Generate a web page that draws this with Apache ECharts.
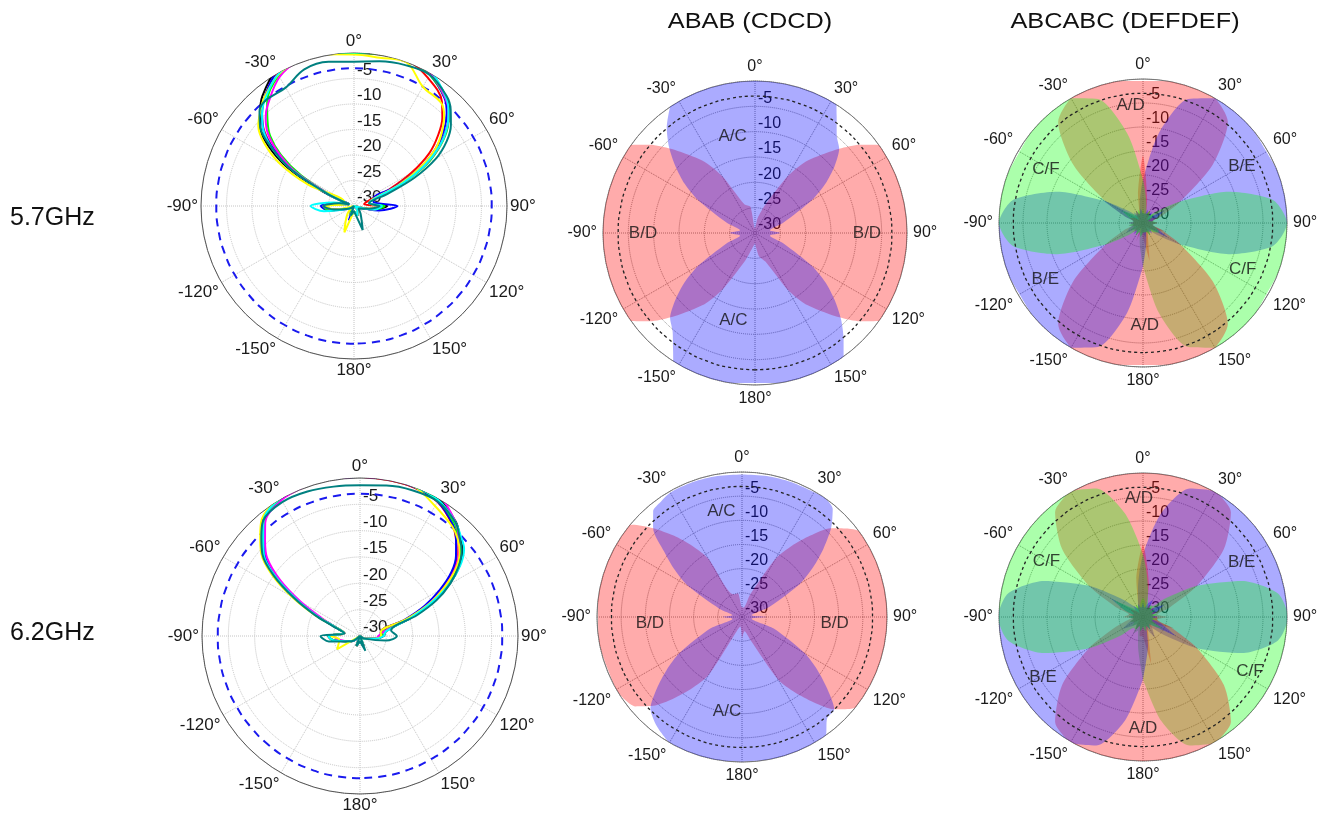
<!DOCTYPE html>
<html><head><meta charset="utf-8">
<script src="https://cdn.jsdelivr.net/npm/echarts@6/dist/echarts.min.js"></script>
<style>html,body{margin:0;padding:0;background:#fff}#c{width:1321px;height:817px}</style>
</head><body><div id="c"></div>
<script>
// ---------- angle grids (degrees, 0 = up, clockwise, negative = counter-clockwise) ----------
const angL = [-180,-160,-140,-120,-100,-90,-80,-70,-65,-60,-55,-50,-45,-40,-30,-20,-10,0,10,20,30,40,45,50,55,60,65,70,80,90,100,120,140,160,180];
const angM = [-180,-170,-160,-150,-145,-140,-135,-130,-125,-120,-110,-100,-90,-80,-70,-60,-55,-50,-45,-40,-35,-30,-20,-10,0,10,20,30,35,40,45,50,55,60,70,80,90,100,110,120,125,130,135,140,145,150,160,170,180];
const angR = [-180,-170,-160,-150,-140,-130,-120,-110,-100,-90,-80,-70,-60,-50,-40,-30,-20,-10,0,10,20,30,40,50,60,70,80,90,100,110,120,130,140,150,160,170,180];

// ---------- 5.7 GHz single-element patterns (dB) ----------
const f57Black   = [-29,-28,-30,-29,-26,-24,-27,-29,-23,-15,-9.5,-6,-4,-2,0.6,1.0,0.6,0.2,0.5,0.8,0,-2,-3.7,-6.2,-9.8,-14.5,-20.5,-26,-27,-23.5,-26,-30,-29,-28,-29];
const f57Red     = [-29,-28,-29,-29,-25,-24,-28,-29,-24,-16,-11,-7,-4.5,-2.6,0.2,0.6,0.3,0,0.2,0.5,-1,-3.2,-5.5,-8.5,-12,-17,-22.5,-27,-28,-24,-27,-30,-29,-28,-29];
const f57Blue    = [-29,-27,-30,-29,-25,-23.5,-27,-29,-24,-16.5,-11,-6.8,-4.5,-2.6,0.3,0.6,0.2,0,0.3,0.6,-0.3,-2.4,-4.3,-7,-10.5,-15,-21,-26,-26,-21.5,-25,-30,-29,-28,-29];
const f57Green   = [-29,-28,-29,-29,-25,-24,-28,-29,-25,-18,-12.5,-8.5,-6,-3.5,-0.5,0.6,0.4,0,0.2,0.6,-0.3,-2.2,-3.7,-6,-9.3,-13.5,-19.5,-26,-27,-24,-26,-30,-29,-28,-29];
const f57Magenta = [-29,-28,-30,-29,-26,-24,-27,-29,-25,-17,-12,-8,-5.5,-3.8,-0.8,0.6,0.6,0.3,0.6,0.8,0,-2.2,-3.8,-6.2,-9.5,-14,-20,-26,-27,-25,-26,-30,-29,-28,-29];
const f57Yellow  = [-29,-24.5,-28,-30,-26,-24.5,-28,-28,-20,-13,-8.5,-5.5,-4,-2.5,-0.3,0.5,0.2,-0.3,-0.5,0,-3,-3.5,-5,-7.5,-10.5,-15,-20.5,-26,-27,-25,-27,-30,-29,-28,-29];
const f57Cyan    = [-29,-28,-30,-29,-24,-21.5,-26,-29,-24,-16,-10.5,-6.8,-4.5,-2.8,-0.2,0.6,0.4,0.1,0.6,1.0,0.3,-2.0,-3.8,-6.2,-9.5,-14,-19.5,-25.5,-27,-24.5,-26,-30,-29,-28,-29];
const f57Teal    = [-29,-28,-30,-29,-26,-24,-27,-29,-24,-16,-10.5,-6,-3.8,-3.0,-3.2,-1.5,-1.3,-1.7,-1.2,-0.6,-0.3,-1.8,-3.2,-5.2,-7.8,-11.5,-17,-23,-27,-25,-27,-29,-28,-25,-29];

// ---------- 6.2 GHz single-element patterns (dB) ----------
const f62Black   = [-29,-28,-30,-28,-25,-24,-27,-25,-21,-15.5,-10,-6,-3.6,-1.3,0.4,0.8,0.8,0.6,0.5,0.4,0,-1.7,-3.2,-4.6,-7,-10.5,-14.5,-19.5,-25,-25.5,-27,-29,-30,-28,-29];
const f62Red     = [-29,-28,-30,-28,-25,-24,-27,-25,-21.5,-16,-10.5,-6.3,-4,-1.6,0,0.3,0.4,0.2,0.1,0,-0.6,-2.6,-4.2,-6,-8.5,-12,-16,-20.5,-26,-26,-27,-29,-30,-28,-29];
const f62Blue    = [-29,-28,-30,-28,-25,-24,-27,-25,-21,-16,-10.5,-6.5,-4.2,-1.8,0,0.3,0.3,0.2,0.2,0.1,-0.5,-2.5,-4.2,-6.2,-8.8,-12.5,-16.5,-21,-26,-26,-27,-29,-30,-28,-29];
const f62Green   = [-29,-28,-30,-28,-25,-24,-27,-25,-21,-16,-10.2,-6.1,-3.9,-1.6,0.1,0.4,0.4,0.3,0.3,0.2,-0.3,-2.1,-3.6,-5.2,-7.6,-11,-15,-20,-25.5,-26,-27,-29,-30,-28,-29];
const f62Magenta = [-29,-28,-30,-28,-26,-25,-27,-25,-22,-17,-11.5,-7,-4.5,-2,-0.2,0.3,0.5,0.6,0.7,0.8,0.5,-1.8,-3.5,-5.5,-8,-11.5,-15.5,-20,-25.5,-26.5,-27,-29,-30,-28,-29];
const f62Yellow  = [-29,-28,-30,-25,-26,-24.5,-27,-25,-20.5,-15,-9.5,-5.5,-3.2,-1,0.3,0.6,0.4,0.5,0.4,0.2,-1.5,-2.8,-3.8,-5.3,-7.8,-11.5,-15.5,-20.5,-26,-26,-27,-29,-30,-28,-29];
const f62Cyan    = [-29,-28,-30,-28,-25,-24,-27,-25,-21,-16,-10.5,-6.2,-4,-1.5,0.2,0.6,0.5,0.3,0.3,0.2,-0.2,-1.8,-3,-4.2,-6.8,-10.5,-15,-19.5,-25,-25.5,-27,-29,-30,-28,-29];
const f62Teal    = [-29,-28,-30,-28,-24,-22.5,-27,-24.5,-20.5,-15.5,-10,-5.8,-3.5,-1.4,-0.6,-0.8,-1.2,-1.4,-1.0,-0.6,-0.5,-1.8,-3.3,-4.8,-7.2,-10.3,-14,-18.5,-24,-23,-25,-29,-30,-27,-29];

// ---------- ABAB (CDCD) beams (dB, on angM) ----------
const abab57AC = [-0.4,0,1.0,1.9,-1.8,-4.7,-6.3,-9.5,-13,-17,-24,-27,-25,-27,-24,-17,-13,-9.5,-6,-2.9,-0.5,1.8,1.3,0.3,0,0.3,1.3,1.6,-1.9,-4.9,-6.5,-9.5,-13,-17,-24,-27,-25,-27,-24,-17,-13,-9.5,-6,-2.8,0.5,1.9,1.0,0,-0.4];
const abab57BD = [-28,-27,-24,-17,-13,-10,-6.5,-2.9,0.3,1.5,1.0,0.3,0,0.4,1.8,2.5,0.3,-2.9,-6.5,-10,-13,-17,-24,-24.7,-29,-27,-24,-17,-13,-10,-6.5,-2.9,0.3,3.3,1.8,0.4,0,0.4,1.5,2.7,0.3,-2.9,-6.5,-10,-13,-17,-24,-25.3,-28];
const abab62AC = [-0.1,0.1,0.2,0,-0.8,-1.8,-3.2,-7,-11,-15,-23,-28,-26,-28,-25,-17,-13,-9,-4,-1.4,-0.8,-0.3,-0.3,-0.4,-0.5,-0.4,-0.3,-0.2,0,-0.8,-3.9,-8,-12,-16,-24,-28,-25,-28,-23,-15,-11,-7,-3,-2.6,0.2,0.4,0.3,0,-0.1];
const abab62BD = [-25.5,-28,-27,-16,-12,-8,-4,-1.2,-0.3,0,-0.2,0,-0.2,0.2,0.5,1.2,2.0,-0.3,-4,-8,-12,-16,-25,-25,-28,-28,-25,-16,-12,-8,-4,-1.5,0.5,0.4,0.3,0.5,0.2,0.4,0.1,0.5,1.0,-0.5,-3,-7,-11,-15,-25,-27,-25.5];

// ---------- ABCABC (DEFDEF) beams (dB, on angR) ----------
const abc57A = [-27,-28,-26,-29,-28,-27,-29,-28,-27,-28,-28,-26,-21,-11,-2.5,0,0.2,0,-0.4,0,0.2,0,-2.5,-11,-21,-26,-28,-27,-28,-25,-27,-28,-29,-28,-27,-22,-27];
const abc57B = [-28,-27,-29,-28,-27,-28,-26,-27,-28,-27,-28,-26,-19,-28,-27,-28,-28,-26,-21,-11,-2.5,0,0.2,0,-0.3,0.1,0.2,0,-2.5,-11,-21,-26,-28,-27,-28,-27,-28];
const abc57C = [-21,-26,-28,-27,-28,-28,-27,-28,-27,-28,-28,-27,-25,-27,-28,-28,-27,-28,-27,-28,-28,-27,-28,-26,-21,-11,-2.5,0,0.2,0,-0.3,0.1,0.2,0,-2.5,-11,-21];
const abc57D = [-0.4,0,0.2,0,-2.5,-11,-21,-26,-28,-27,-28,-27,-28,-29,-28,-27,-28,-24,-16,-25,-28,-27,-28,-29,-28,-27,-28,-27,-28,-26,-21,-11,-2.5,0,0.2,0,-0.4];
const abc57E = [-21,-11,-2.5,0,0.2,0,-0.3,0.1,0.2,0,-2.5,-11,-21,-26,-28,-27,-28,-27,-28,-28,-27,-28,-27,-28,-25,-27,-28,-27,-28,-27,-24,-28,-27,-28,-28,-26,-21];
const abc57F = [-28,-27,-28,-27,-28,-26,-21,-11,-2.5,0,0.2,0,-0.3,0.1,0.2,0,-2.5,-11,-21,-26,-28,-27,-28,-27,-28,-29,-28,-27,-28,-27,-26,-27,-28,-27,-28,-28,-28];
const abc62A = [-26,-26,-28,-27,-28,-29,-28,-27,-28,-26,-27,-24,-17,-8,-1.5,0.2,0.3,0.2,0,0.2,0.3,0.2,-1.5,-8,-17,-24,-27,-25,-27,-23,-27,-28,-27,-28,-27,-20,-26];
const abc62B = [-28,-27,-28,-27,-28,-27,-25,-27,-28,-27,-28,-26,-22,-28,-27,-28,-27,-24,-17,-8,-1.5,0.2,0.3,0.2,0,0.2,0.3,0.2,-1.5,-8,-17,-24,-27,-25,-27,-28,-28];
const abc62C = [-17,-24,-27,-26,-28,-27,-28,-27,-28,-27,-28,-26,-23,-27,-28,-27,-28,-27,-26,-27,-28,-27,-27,-24,-17,-8,-1.5,0.2,0.3,0.2,0,0.2,0.3,0.2,-1.5,-8,-17];
const abc62D = [0,0.2,0.3,0.2,-1.5,-8,-17,-24,-27,-28,-27,-28,-27,-28,-29,-28,-27,-22,-15,-23,-28,-27,-28,-27,-28,-27,-28,-27,-27,-24,-17,-8,-1.5,0.2,0.3,0.2,0];
const abc62E = [-17,-8,-1.5,0.2,0.3,0.2,0,0.2,0.3,0.2,-1.5,-8,-17,-24,-27,-28,-27,-28,-27,-28,-27,-26,-28,-27,-25,-27,-28,-27,-28,-26,-22,-27,-28,-27,-28,-24,-17];
const abc62F = [-28,-27,-28,-27,-27,-24,-17,-8,-1.5,0.2,0.3,0.2,0,0.2,0.3,0.2,-1.5,-8,-17,-24,-27,-28,-27,-28,-27,-28,-27,-28,-27,-28,-25,-27,-28,-27,-28,-27,-28];

// reference level (dashed circle), dB
const refLevel = -3;

// beam labels: text, radius (dB), angle (deg)
const ababNames = ['A/C','A/C','B/D','B/D'];
const abab57LabR = [-10.4,-12.3,-7.9,-7.9];
const abab57LabA = [-13,-166,-90,90];
const abab62LabR = [-7.7,-10.2,-10.9,-10.8];
const abab62LabA = [-11,-171,-94,94];
const abcNames = ['A/D','A/D','B/E','B/E','C/F','C/F'];
const abc57LabR = [-5.4,-8.7,-6.2,-6.5,-6.9,-7.1];
const abc57LabA = [-6,179,60,-120,-61,115];
const abc62LabR = [-5.3,-6.8,-6.5,-5.7,-6.8,-5.0];
const abc62LabA = [-2,180,61,-121,-60,117];

const rowLabels = ['5.7GHz','6.2GHz'];
const colTitles = ['ABAB (CDCD)','ABCABC (DEFDEF)'];

// ---------- build option ----------
const FONT = '"Liberation Sans", Arial, sans-serif';
// the angle axis runs 0..360 clockwise from the top; negative angles map onto it
const toAxisAngle = a => (a < 0 ? a + 360 : a);
const pairs = (angles, vals) => vals.map((v, i) => [v, toAxisAngle(angles[i])]);

const polars = [
  {center:[354,206], radius:153},
  {center:[755,233], radius:152},
  {center:[1143,223], radius:144},
  {center:[360,636], radius:158},
  {center:[742,617], radius:145},
  {center:[1143,617], radius:144}
];
const isLeft = i => i === 0 || i === 3;

const angleAxis = polars.map((p, i) => ({
  polarIndex: i, type: 'value', min: 0, max: 360, interval: 30,
  startAngle: 90, clockwise: true, z: 1,
  axisLine: {show: true, lineStyle: {color: isLeft(i) ? '#555' : '#777', width: 1}},
  axisTick: {show: false},
  axisLabel: {show: true, margin: isLeft(i) ? 3 : 6, fontSize: isLeft(i) ? 17 : 16, fontFamily: FONT, color: '#1a1a1a',
    formatter: v => v === 360 ? '' : (v > 180 ? v - 360 : v) + '°'},
  splitLine: {show: true, lineStyle: {color: isLeft(i) ? '#c4c4c4' : '#8c8c8c', type: 'dotted', width: 1}}
}));
const radiusAxis = polars.map((p, i) => ({
  polarIndex: i, type: 'value', min: -30, max: 0, interval: 5, z: 1,
  axisLine: {show: false}, axisTick: {show: false},
  axisLabel: {show: true, fontSize: isLeft(i) ? 17 : 16, fontFamily: FONT, color: '#1a1a1a',
    align: 'left', verticalAlign: 'bottom', margin: -3,
    formatter: v => v === 0 ? '' : String(v)},
  splitLine: {show: true, lineStyle: {color: isLeft(i) ? '#c4c4c4' : '#8c8c8c', type: 'dotted', width: 1}}
}));

const series = [];
function addLine(pi, name, color, vals) {
  series.push({type: 'line', coordinateSystem: 'polar', polarIndex: pi, name, data: pairs(angL, vals),
    symbol: 'none', smooth: 0.35, clip: false, z: 3, silent: true,
    lineStyle: {color, width: 2}});
}
function addFill(pi, name, color, angles, vals) {
  series.push({type: 'line', coordinateSystem: 'polar', polarIndex: pi, name, data: pairs(angles, vals),
    symbol: 'none', smooth: 0.25, clip: false, z: 2, silent: true,
    lineStyle: {opacity: 0, width: 0},
    areaStyle: {color, opacity: 1, origin: 'start'}});
}
function addRef(pi, color, width, dash) {
  series.push({type: 'line', coordinateSystem: 'polar', polarIndex: pi, name: 'ref',
    data: angR.map(a => [refLevel, toAxisAngle(a)]), symbol: 'none', smooth: 0.5, clip: false, z: 2, silent: true,
    lineStyle: {color, width, type: dash}});
}
function addLabels(pi, names, rs, as) {
  series.push({type: 'scatter', coordinateSystem: 'polar', polarIndex: pi, silent: true, z: 6,
    symbolSize: 1, itemStyle: {color: 'rgba(0,0,0,0)'},
    data: names.map((n, k) => ({name: n, value: [rs[k], toAxisAngle(as[k])]})),
    label: {show: true, position: 'inside', formatter: '{b}', fontSize: 17, fontFamily: FONT, color: '#111'}});
}

const lineColors = ['#000000','#ff0000','#0000ff','#00ff00','#ff00ff','#ffff00','#00ffff','#008080'];
const lineNames = ['black','red','blue','green','magenta','yellow','cyan','teal'];
[f57Black,f57Red,f57Blue,f57Green,f57Magenta,f57Yellow,f57Cyan,f57Teal].forEach((d,k)=>addLine(0, '5.7 '+lineNames[k], lineColors[k], d));
[f62Black,f62Red,f62Blue,f62Green,f62Magenta,f62Yellow,f62Cyan,f62Teal].forEach((d,k)=>addLine(3, '6.2 '+lineNames[k], lineColors[k], d));
addRef(0, '#1a1aee', 2, [8, 6]);
addRef(3, '#1a1aee', 2, [8, 6]);

const RED = 'rgba(255,0,0,0.33)', BLUE = 'rgba(0,0,255,0.33)', GREEN = 'rgba(0,255,0,0.33)';
addFill(1, 'B/D', RED, angM, abab57BD);
addFill(1, 'A/C', BLUE, angM, abab57AC);
addFill(4, 'B/D', RED, angM, abab62BD);
addFill(4, 'A/C', BLUE, angM, abab62AC);

const abcColors = [RED, BLUE, GREEN, RED, BLUE, GREEN];
[abc57A,abc57B,abc57C,abc57D,abc57E,abc57F].forEach((d,k)=>addFill(2, 'ABCDEF'[k], abcColors[k], angR, d));
[abc62A,abc62B,abc62C,abc62D,abc62E,abc62F].forEach((d,k)=>addFill(5, 'ABCDEF'[k], abcColors[k], angR, d));

[1,2,4,5].forEach(pi => addRef(pi, '#222', 1.3, [3, 3]));
addLabels(1, ababNames, abab57LabR, abab57LabA);
addLabels(4, ababNames, abab62LabR, abab62LabA);
addLabels(2, abcNames, abc57LabR, abc57LabA);
addLabels(5, abcNames, abc62LabR, abc62LabA);

const graphic = [
  {type: 'text', x: 750, y: 22, scaleX: 1.15, style: {text: colTitles[0], font: '22px ' + FONT, fill: '#111', align: 'center', verticalAlign: 'middle', textAlign: 'center', textVerticalAlign: 'middle'}},
  {type: 'text', x: 1125, y: 22, scaleX: 1.15, style: {text: colTitles[1], font: '22px ' + FONT, fill: '#111', align: 'center', verticalAlign: 'middle', textAlign: 'center', textVerticalAlign: 'middle'}},
  {type: 'text', x: 10, y: 218, style: {text: rowLabels[0], font: '25px ' + FONT, fill: '#111', align: 'left', verticalAlign: 'middle', textAlign: 'left', textVerticalAlign: 'middle'}},
  {type: 'text', x: 10, y: 633, style: {text: rowLabels[1], font: '25px ' + FONT, fill: '#111', align: 'left', verticalAlign: 'middle', textAlign: 'left', textVerticalAlign: 'middle'}}
];

const chart = echarts.init(document.getElementById('c'), null, {renderer: 'canvas'});
chart.setOption({
  animation: false,
  backgroundColor: '#ffffff',
  polar: polars,
  angleAxis, radiusAxis,
  series, graphic
});
</script></body></html>
